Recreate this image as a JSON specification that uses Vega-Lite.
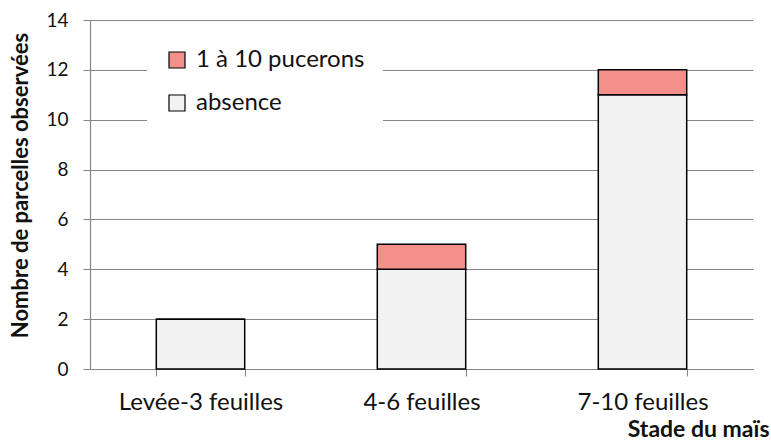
{
  "$schema": "https://vega.github.io/schema/vega-lite/v6.json",
  "autosize": {"type": "none"},
  "width": 663,
  "height": 349,
  "padding": {"left": 90, "top": 20, "right": 18, "bottom": 72},
  "background": "white",
  "data": {"values": [
    {"stade": "Levée-3 feuilles", "serie": "absence", "n": 2},
    {"stade": "Levée-3 feuilles", "serie": "1 à 10 pucerons", "n": 0},
    {"stade": "4-6 feuilles", "serie": "absence", "n": 4},
    {"stade": "4-6 feuilles", "serie": "1 à 10 pucerons", "n": 1},
    {"stade": "7-10 feuilles", "serie": "absence", "n": 11},
    {"stade": "7-10 feuilles", "serie": "1 à 10 pucerons", "n": 1}
  ]},
  "config": {
    "font": "Lato",
    "view": {"stroke": null},
    "axis": {"labelFont": "Lato", "titleFont": "Lato", "labelColor": "#111", "titleColor": "#111"}
  },
  "mark": {"type": "bar", "stroke": "black", "strokeWidth": 1.5},
  "encoding": {
    "x": {
      "field": "stade", "type": "nominal", "sort": null,
      "scale": {"paddingInner": 0.6, "paddingOuter": 0.3},
      "axis": {
        "title": "Stade du maïs", "titleFontSize": 23, "titleFontWeight": "bold",
        "titleAnchor": "end", "titleAlign": "right", "titleX": 679, "titleY": 67, "titleBaseline": "alphabetic",
        "labelAngle": 0, "labelFontSize": 24, "labelPadding": 33, "labelBaseline": "alphabetic",
        "tickBand": "extent", "tickSize": 7, "tickColor": "#868686",
        "domainColor": "#868686", "domainWidth": 1.2, "grid": false
      }
    },
    "y": {
      "field": "n", "type": "quantitative", "stack": "zero",
      "scale": {"domain": [0, 14]},
      "axis": {
        "title": "Nombre de parcelles observées", "titleFontSize": 22, "titleFontWeight": "bold",
        "titleX": -70, "titleY": 165, "titleAlign": "center", "titleBaseline": "middle", "titleAngle": -90,
        "values": [0, 2, 4, 6, 8, 10, 12, 14], "labelFontSize": 19, "labelPadding": 15,
        "tickSize": 7, "tickColor": "#868686", "domainColor": "#868686", "domainWidth": 1.2,
        "gridColor": "#868686", "gridWidth": 1.2
      }
    },
    "color": {
      "field": "serie", "type": "nominal",
      "scale": {"domain": ["1 à 10 pucerons", "absence"], "range": ["#F4908A", "#F2F2F2"]},
      "legend": {
        "title": null, "orient": "none", "legendX": 57, "legendY": 10,
        "fillColor": "white", "padding": 18, "symbolType": "square", "symbolSize": 256,
        "symbolStrokeColor": "black", "symbolStrokeWidth": 1.2, "symbolOffset": 0,
        "labelFontSize": 24, "labelColor": "#111", "labelOffset": 7, "rowPadding": 19,
        "labelLimit": 400, "symbolOpacity": 1
      }
    },
    "order": {"field": "serie", "sort": "descending"}
  }
}
